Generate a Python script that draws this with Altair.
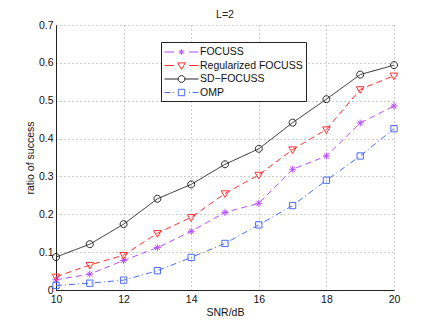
import altair as alt
import pandas as pd

# ---- data ----
snr = [10, 11, 12, 13, 14, 15, 16, 17, 18, 19, 20]
focuss = [0.027, 0.042, 0.078, 0.112, 0.155, 0.205, 0.229, 0.319, 0.354, 0.441, 0.486]
reg_focuss = [0.035, 0.066, 0.092, 0.150, 0.192, 0.255, 0.304, 0.371, 0.424, 0.530, 0.566]
sd_focuss = [0.087, 0.121, 0.174, 0.241, 0.279, 0.332, 0.373, 0.442, 0.504, 0.569, 0.594]
omp = [0.012, 0.018, 0.026, 0.051, 0.086, 0.123, 0.172, 0.223, 0.290, 0.354, 0.426]

series_names = ["FOCUSS", "Regularized FOCUSS", "SD\u2212FOCUSS", "OMP"]
series_values = [focuss, reg_focuss, sd_focuss, omp]

x_ticks = [10, 12, 14, 16, 18, 20]
y_ticks = [0, 0.1, 0.2, 0.3, 0.4, 0.5, 0.6, 0.7]

# ---- styles ----
colors = ["#b84dff", "#ff3030", "#262626", "#4a6bff"]
dashes = [[6, 4], [6, 4], [1, 0], [6, 3, 1, 3]]

asterisk = "M0,-1L0,1M-1,0L1,0M-0.7,-0.7L0.7,0.7M-0.7,0.7L0.7,-0.7"
tri_down = "M-1.1,-0.75L1.1,-0.75L0,1.15Z"
circle = "M1,0A1,1 0 1,1 -1,0A1,1 0 1,1 1,0Z"
square = "M-0.9,-0.9L0.9,-0.9L0.9,0.9L-0.9,0.9Z"
marker_paths = [asterisk, tri_down, circle, square]

# legend glyphs (line pieces + marker), built in pixel units then scaled
LEG_SIZE = 13          # legend symbol box (px)
K = LEG_SIZE / 2.0     # px per path unit
C = LEG_SIZE / 2.0     # symbol centre, px from legend content left
MC = 17.0              # marker centre px
R = 3.4                # marker half size px


def u(px):
    return round((px - C) / K, 3)


def v(py):
    return round(py / K, 3)


def seg(a, b):
    return f"M{u(a)},0L{u(b)},0"


def leg_glyph(kind):
    if kind == "star":
        segs = seg(0, 9.5) + seg(24.5, 34)
        r = R * 0.85
        d = r * 0.7
        m = (f"M{u(MC)},{v(-r)}L{u(MC)},{v(r)}M{u(MC - r)},0L{u(MC + r)},0"
             f"M{u(MC - d)},{v(-d)}L{u(MC + d)},{v(d)}M{u(MC - d)},{v(d)}L{u(MC + d)},{v(-d)}")
    elif kind == "tri":
        segs = seg(0, 9.5) + seg(24.5, 34)
        m = f"M{u(MC - 3.8)},{v(-2.6)}L{u(MC + 3.8)},{v(-2.6)}L{u(MC)},{v(3.9)}Z"
    elif kind == "circle":
        segs = seg(0, MC - R) + seg(MC + R, 34)
        m = (f"M{u(MC + R)},0A{v(R)},{v(R)} 0 1,1 {u(MC - R)},0"
             f"A{v(R)},{v(R)} 0 1,1 {u(MC + R)},0Z")
    else:
        segs = seg(0, 6) + seg(8.5, 9.5) + seg(24.5, 25.5) + seg(28, 34)
        s = 3.2
        m = (f"M{u(MC - s)},{v(-s)}L{u(MC + s)},{v(-s)}L{u(MC + s)},{v(s)}"
             f"L{u(MC - s)},{v(s)}Z")
    return segs + m


leg_paths = [leg_glyph(k) for k in ["star", "tri", "circle", "square"]]

rows = []
for name, vals in zip(series_names, series_values):
    for s, val in zip(snr, vals):
        rows.append({"snr": s, "ratio": val, "series": name})
df = pd.DataFrame(rows)

x_enc = alt.X(
    "snr:Q",
    scale=alt.Scale(domain=[10, 20], nice=False, zero=False),
    axis=alt.Axis(values=x_ticks, title="SNR/dB", format="d"),
)
y_enc = alt.Y(
    "ratio:Q",
    scale=alt.Scale(domain=[0, 0.7], nice=False),
    axis=alt.Axis(values=y_ticks, title="ratio of success", format="~g"),
)

base = alt.Chart(df)
layers = []
for name, col, dash in zip(series_names, colors, dashes):
    layers.append(
        base.transform_filter(alt.datum.series == name)
        .mark_line(color=col, strokeWidth=1, strokeDash=dash)
        .encode(x=x_enc, y=y_enc)
    )
for name, col, path in zip(series_names, colors, marker_paths):
    layers.append(
        base.transform_filter(alt.datum.series == name)
        .mark_point(shape=path, size=49, filled=False, stroke=col, strokeWidth=1, opacity=1)
        .encode(x=x_enc, y=y_enc)
    )

legend_layer = (
    base.transform_filter("false")
    .mark_point(filled=False, strokeWidth=1, opacity=1)
    .encode(
        x=x_enc,
        y=y_enc,
        color=alt.Color(
            "series:N",
            scale=alt.Scale(domain=series_names, range=colors),
            legend=alt.Legend(title=None),
        ),
        shape=alt.Shape(
            "series:N",
            scale=alt.Scale(domain=series_names, range=leg_paths),
            legend=alt.Legend(title=None),
        ),
    )
)
layers.append(legend_layer)

chart = (
    alt.layer(*layers)
    .properties(
        width=338,
        height=265,
        title=alt.Title("L=2", fontSize=10.5, fontWeight="normal", font="Liberation Sans",
                        color="#222222", offset=0),
        autosize=alt.AutoSizeParams(type="none"),
        padding={"left": 48, "top": 17, "right": 33, "bottom": 29},
    )
    .configure_view(stroke=None)
    .configure_axis(
        labelFont="Liberation Sans",
        titleFont="Liberation Sans",
        labelFontSize=10.5,
        titleFontSize=10.5,
        titleFontWeight="normal",
        labelColor="#111111",
        titleColor="#111111",
        domainColor="#222222",
        domainWidth=1,
        ticks=False,
        tickSize=0,
        grid=True,
        gridColor="#9a9a9a",
        gridDash=[1, 3],
        gridWidth=1,
    )
    .configure_axisX(labelPadding=4, titlePadding=3, labelFlush=False)
    .configure_axisY(labelPadding=3, titlePadding=3)
    .configure_legend(
        orient="none",
        legendX=105,
        legendY=17,
        fillColor="white",
        strokeColor="#222222",
        strokeWidth=1,
        padding=3,
        cornerRadius=0,
        symbolSize=LEG_SIZE * LEG_SIZE,
        symbolStrokeWidth=1,
        labelFont="Liberation Sans",
        labelFontSize=10.5,
        labelColor="#111111",
        labelOffset=22,
        rowPadding=0.5,
        labelLimit=0,
    )
)

chart.save("out.html", embed_options={"renderer": "svg", "actions": False})
